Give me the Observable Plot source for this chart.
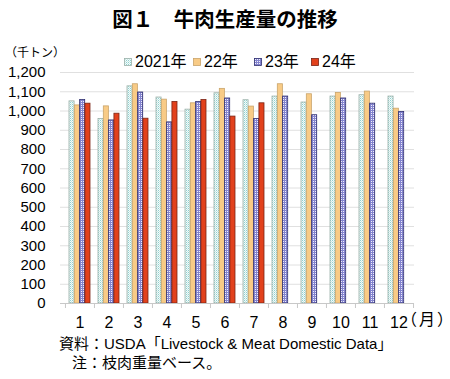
<!DOCTYPE html>
<html><head><meta charset="utf-8">
<script src="https://cdn.jsdelivr.net/npm/d3@7"></script>
<script src="https://cdn.jsdelivr.net/npm/@observablehq/plot@0.6"></script>
<style>
body{margin:0;background:#fff;}
#wrap{position:relative;width:450px;height:379px;font-family:"Liberation Sans","Noto Sans CJK JP",sans-serif;color:#000;overflow:hidden;}
#wrap svg.chart{position:absolute;left:0;top:0;}
.t{position:absolute;white-space:nowrap;}
.lg{position:absolute;display:flex;align-items:center;white-space:nowrap;font-size:16px;line-height:16px;top:54px;}
.lg svg{margin-right:3px;}
</style></head><body>
<div id="wrap">
  <div class="t" style="left:0;width:450px;top:8px;line-height:21px;text-align:center;font-size:20.5px;font-weight:bold;font-family:'Noto Sans CJK JP',sans-serif;">図１　牛肉生産量の推移</div>
  <div class="t" style="left:5px;top:47px;line-height:12px;font-size:12px;">（千トン）</div>
  <div class="t" style="left:409px;top:312px;line-height:16px;font-size:16px;font-feature-settings:'halt';letter-spacing:2px;">（月）</div>
  <div class="t" style="left:59px;top:336px;line-height:16px;font-size:15px;">資料：USDA「Livestock &amp; Meat Domestic Data」</div>
  <div class="t" style="left:72px;top:355px;line-height:16px;font-size:15px;">注：枝肉重量ベース。</div>
</div>
<script>
const months = [1,2,3,4,5,6,7,8,9,10,11,12];
const seriesNames = ["2021年","22年","23年","24年"];
const v2021 = [1050, 958, 1128, 1070, 1007, 1092, 1056, 1075, 1044, 1075, 1082, 1075];
const v2022 = [1029, 1024, 1139, 1059, 1040, 1115, 1023, 1139, 1087, 1094, 1101, 1012];
const v2023 = [1057, 951, 1096, 941, 1047, 1065, 958, 1075, 978, 1065, 1038, 995];
const v2024 = [1038, 986, 960, 1047, 1057, 971, 1040];
const yTicks = [0,100,200,300,400,500,600,700,800,900,1000,1100,1200];

const seriesValues = [v2021, v2022, v2023, v2024];
const fills = ["url(#p21)", "url(#p22)", "url(#p23)", "url(#p24)"];
const strokes = ["#9bb0a8", "#c9a46a", "#2c2c6e", "#7a2414"];
const legendLeft = [124, 193, 254, 311];

const W = 450, H = 379, mL = 65, mR = 36, mT = 72, mB = 76;
const pInner = 0.27, pOuter = 0.135;
const step = (W - mL - mR) / (months.length - pInner + 2 * pOuter);
const bw = step * (1 - pInner);
const w = bw / 4;

const marks = [
  Plot.ruleY(yTicks.filter(d => d > 0), {stroke: "#e0e0e0", insetLeft: -5}),
];
seriesValues.forEach((vals, i) => {
  const data = vals.map((v, j) => ({month: months[j], value: v}));
  marks.push(Plot.barY(data, {
    x: "month", y: "value", fill: fills[i], stroke: strokes[i], strokeWidth: 0.8,
    insetLeft: i * w, insetRight: (3 - i) * w
  }));
});
marks.push(Plot.ruleY([0], {stroke: "#c8c8c8", insetLeft: -5}));
marks.push(Plot.ruleX(months, {x: d => d, y1: 0, y2: -26, dx: -step / 2, stroke: "#c8c8c8"}));
marks.push(Plot.ruleX([months[months.length - 1]], {x: d => d, y1: 0, y2: -26, dx: step / 2, stroke: "#c8c8c8"}));

const svg = Plot.plot({
  width: W, height: H,
  marginLeft: mL, marginRight: mR, marginTop: mT, marginBottom: mB,
  style: {fontSize: "15px", fontFamily: "'Liberation Sans', 'Noto Sans CJK JP', sans-serif", color: "#000", background: "transparent"},
  x: {type: "band", domain: months, paddingInner: pInner, paddingOuter: pOuter, tickSize: 0, tickPadding: 13, label: null},
  y: {domain: [0, 1200], ticks: yTicks, tickFormat: d3.format(","), tickSize: 0, tickPadding: 20, label: null},
  marks
});
svg.classList.add("chart");

const defs = `
<defs>
  <pattern id="p21" patternUnits="userSpaceOnUse" width="2" height="2">
    <rect width="2" height="2" fill="#f4fbfa"/>
    <rect width="1" height="1" fill="#8fd0d0"/>
    <rect x="1" y="1" width="1" height="1" fill="#c6e7e5"/>
  </pattern>
  <pattern id="p22" patternUnits="userSpaceOnUse" width="2" height="2">
    <rect width="2" height="2" fill="#f8cb86"/>
  </pattern>
  <pattern id="p23" patternUnits="userSpaceOnUse" width="2" height="2">
    <rect width="2" height="2" fill="#f0f0fb"/>
    <rect width="2" height="1" fill="#8484cf"/>
    <rect width="1" height="2" fill="#8484cf"/>
  </pattern>
  <pattern id="p24" patternUnits="userSpaceOnUse" width="2" height="2">
    <rect width="2" height="2" fill="#e2411c"/>
  </pattern>
</defs>`;
svg.insertAdjacentHTML("afterbegin", defs);
svg.querySelectorAll('g[aria-label^="x-axis"] text').forEach(t => t.setAttribute("font-size", "16px"));
document.getElementById("wrap").prepend(svg);

const wrap = document.getElementById("wrap");
seriesNames.forEach((name, i) => {
  const item = document.createElement("div");
  item.className = "lg";
  item.style.left = legendLeft[i] + "px";
  item.innerHTML = `<svg width="8" height="8"><rect x="0.5" y="0.5" width="7" height="7" fill="${fills[i]}" stroke="${strokes[i]}" stroke-width="0.8"/></svg><span>${name}</span>`;
  wrap.appendChild(item);
});
</script>
</body></html>
